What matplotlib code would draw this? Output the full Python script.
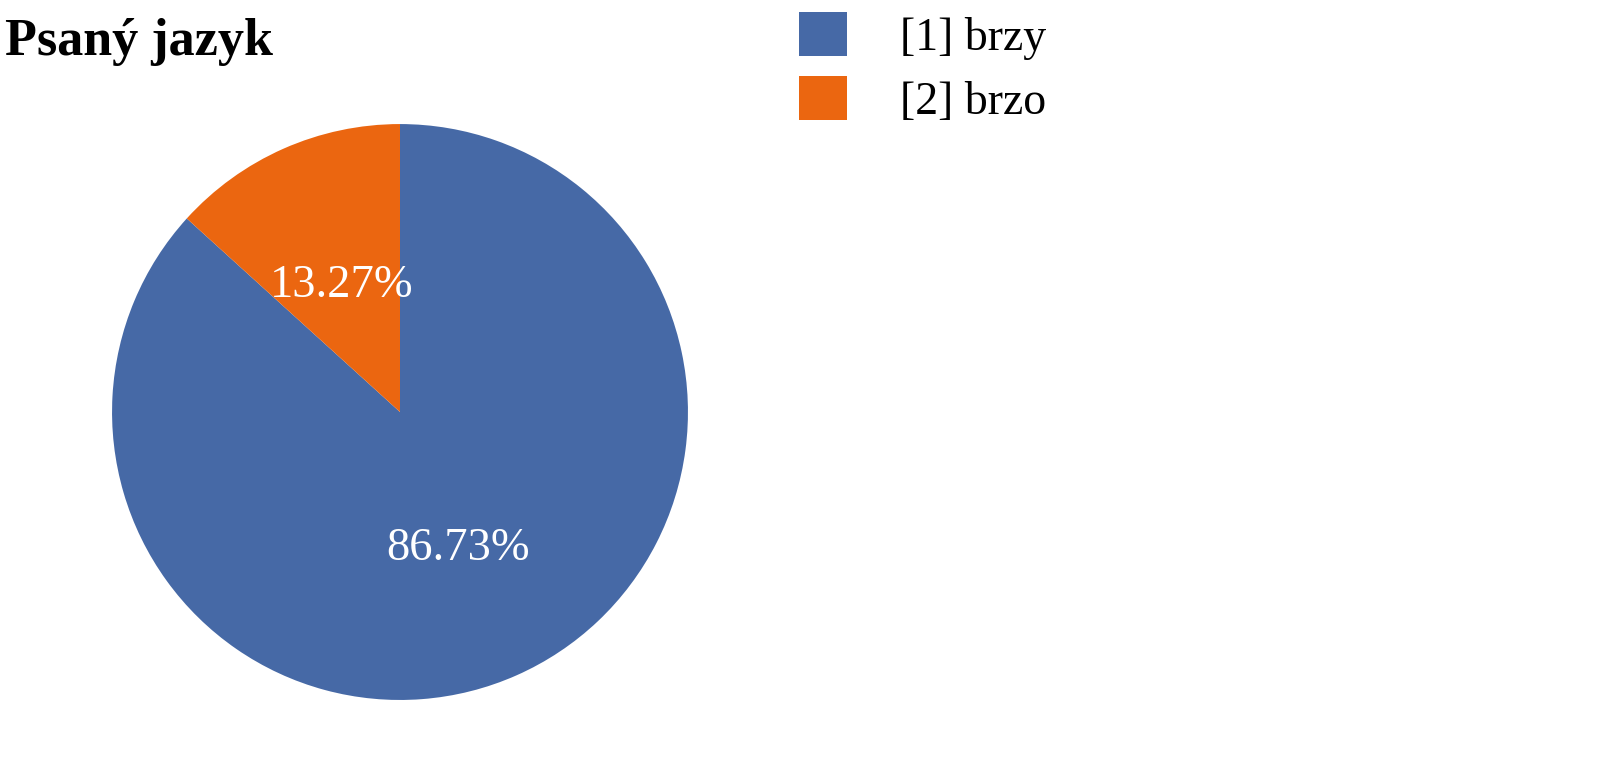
import matplotlib
matplotlib.use("Agg")
import matplotlib.pyplot as plt

# data
labels = ["[1] brzy", "[2] brzo"]
shares = [86.73, 13.27]
colors = ["#4669A6", "#EB6610"]
title = "Psaný jazyk"

plt.rcParams['font.family'] = ['Liberation Serif', 'DejaVu Serif']

fig = plt.figure(figsize=(16, 7.72), dpi=100)
ax = fig.add_axes([0.07, 0.0933, 0.36, 0.746])

wedges, texts, autotexts = ax.pie(shares, colors=colors, startangle=90, counterclock=False,
                                  autopct=lambda p: "%.2f%%" % p, pctdistance=0.5,
                                  radius=1, wedgeprops=dict(linewidth=0))
for t in autotexts:
    t.set_color("white")
    t.set_fontsize(33.5)
    t.set_va("center_baseline")
ax.set_xlim(-1, 1)
ax.set_ylim(-1, 1)
ax.set_aspect("equal")

fig.text(0.003, 0.945, title, fontsize=37.5, fontweight="bold", va="center", ha="left")

fig.legend(wedges, labels, loc="upper left", bbox_to_anchor=(0.4795, 1.026), frameon=False,
           fontsize=33, handlelength=1.05, handleheight=1.1, handletextpad=1.15,
           labelspacing=0.36, borderaxespad=0.3)

fig.savefig("out.png", dpi=100)
